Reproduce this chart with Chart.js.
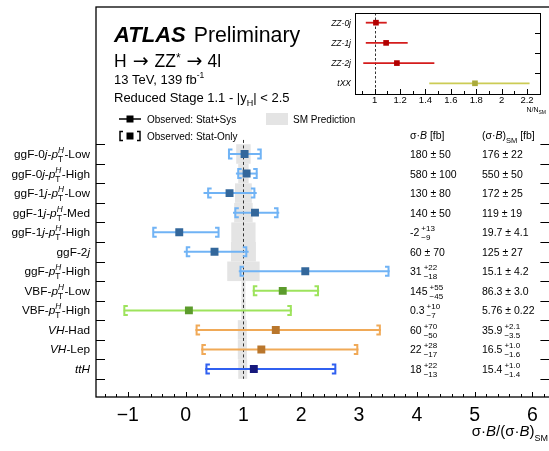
<!DOCTYPE html>
<html><head><meta charset="utf-8">
<script src="https://cdn.jsdelivr.net/npm/chart.js@4/dist/chart.umd.min.js"></script>
<style>
html,body{margin:0;padding:0;background:#fff;overflow:hidden;width:549px;height:451px}
#wrap{position:relative;width:556px;height:451px}
#main{position:absolute;left:0;top:0}
#inset{position:absolute;left:300px;top:0}
</style></head><body>
<div id="wrap">
<canvas id="main" width="556" height="451"></canvas>
<canvas id="inset" width="249" height="118"></canvas>
</div>
<script>
// ---------- DATA ----------
const categories = ['ggF-0<i>j</i>-<pt>-Low','ggF-0<i>j</i>-<pt>-High','ggF-1<i>j</i>-<pt>-Low','ggF-1<i>j</i>-<pt>-Med',
  'ggF-1<i>j</i>-<pt>-High','ggF-2<i>j</i>','ggF-<pt>-High','VBF-<pt>-Low','VBF-<pt>-High',
  '<i>VH</i>-Had','<i>VH</i>-Lep','<i>ttH</i>'];
const groupOf = ['ggF','ggF','ggF','ggF','ggF','ggF','ggF','VBF','VBF','VH','VH','ttH'];
const central = [1.02, 1.055, 0.76, 1.20, -0.11, 0.50, 2.07, 1.68, 0.057, 1.56, 1.31, 1.18];
const totalLo = [0.74, 0.87, 0.31, 0.82, -0.56, -0.03, 0.92, 1.16, -1.07, 0.17, 0.27, 0.34];
const totalHi = [1.30, 1.24, 1.23, 1.62, 0.57, 1.09, 3.53, 2.31, 1.84, 3.38, 2.99, 2.60];
const statLo  = [0.75, 0.91, 0.39, 0.86, -0.56, 0.02, 0.95, 1.18, -1.06, 0.19, 0.29, 0.36];
const statHi  = [1.30, 1.23, 1.19, 1.59, 0.57, 1.05, 3.51, 2.29, 1.82, 3.36, 2.97, 2.59];
const smErrDn = [0.125, 0.09, 0.145, 0.16, 0.21, 0.216, 0.28, 0.035, 0.038, 0.097, 0.097, 0.09];
const smErrUp = [0.125, 0.09, 0.145, 0.16, 0.21, 0.216, 0.28, 0.035, 0.038, 0.058, 0.06, 0.065];
// table columns
const xsVal = ['180','580','130','140','-2','60','31','145','0.3','60','22','18'];
const xsUp  = ['50','100','80','50','+13','70','+22','+55','+10','+70','+28','+22'];
const xsDn  = [null,null,null,null,'\u22129',null,'\u221218','\u221245','\u22127','\u221250','\u221217','\u221213'];
const smVal = ['176','550','172','119','19.7','125','15.1','86.3','5.76','35.9','16.5','15.4'];
const smUp  = ['22','50','25','19','4.1','27','4.2','3.0','0.22','+2.1','+1.0','+1.0'];
const smDn  = [null,null,null,null,null,null,null,null,null,'\u22123.5','\u22121.6','\u22121.4'];
const xTickLabels = [-1,0,1,2,3,4,5,6];
// inset
const insetCats = ['ZZ-0j','ZZ-1j','ZZ-2j','tXX'];
const insetVal = [1.01, 1.09, 1.175, 1.79];
const insetLo  = [0.93, 0.93, 0.91, 1.43];
const insetHi  = [1.095, 1.26, 1.47, 2.22];
const insetTicks = [1, 1.2, 1.4, 1.6, 1.8, 2, 2.2];

// ---------- STYLE ----------
const FAM = '"Liberation Sans", Arial, Helvetica, sans-serif';
const f = (s, st) => `${st||''} ${s}px ${FAM}`;
const fd = (s) => `${s}px "DejaVu Sans", sans-serif`;
const groupStyle = {
  ggF: {line:'#70b3f5', mark:'#33679b'},
  VBF: {line:'#9de35c', mark:'#5c9b2c'},
  VH:  {line:'#f0a957', mark:'#b9762c'},
  ttH: {line:'#3060f0', mark:'#16187c'}
};
const groupNames = ['ggF','VBF','VH','ttH'];
const LF = 11.8;

// ---------- rich text ----------
function segWidth(ctx, s){
  if (s.stack){ ctx.font=s.supFont; const a=ctx.measureText(s.sup).width; ctx.font=s.subFont; const b=ctx.measureText(s.sub).width; return Math.max(a,b) + (s.gap||0) + (s.gapL||0); }
  ctx.font = s.font; return ctx.measureText(s.t).width + (s.gap||0) + (s.gapL||0);
}
function drawSegs(ctx, segs, x, y, align){
  let w = 0; segs.forEach(s => w += segWidth(ctx, s));
  let cx = align === 'right' ? x - w : x;
  ctx.textBaseline = 'alphabetic'; ctx.textAlign = 'left';
  segs.forEach(s => {
    const g = s.gapL || 0;
    if (s.stack){
      ctx.font = s.supFont; ctx.fillText(s.sup, cx + g, y + s.supDy);
      ctx.font = s.subFont; ctx.fillText(s.sub, cx + g, y + s.subDy);
    } else {
      ctx.font = s.font; ctx.fillText(s.t, cx + g, y + (s.dy||0));
    }
    cx += segWidth(ctx, s);
  });
}
function labelSegs(str){
  const parts = str.split(/(<i>.*?<\/i>|<pt>)/).filter(p => p.length);
  return parts.map(p => {
    if (p === '<pt>') return [{t:'p', font:f(LF,'italic')},{stack:true, sup:'H', supFont:f(8.3,'italic'), sub:'T', subFont:f(8.3), supDy:-5, subDy:4, gap:0.5}];
    if (p.startsWith('<i>')) return [{t:p.slice(3,-4), font:f(LF,'italic')}];
    return [{t:p, font:f(LF)}];
  }).flat();
}
function valSegs(v, up, dn, size){
  if (dn === null) return [{t:`${v} \u00b1 ${up}`, font:f(size)}];
  return [{t:v, font:f(size)}, {stack:true, sup:up, sub:dn, supFont:f(8), subFont:f(8), supDy:-5, subDy:4, gapL:2, gap:2}];
}

// ---------- main chart ----------
const mainPlugin = {
  id:'mainDecor',
  beforeDatasetsDraw(chart){
    const {ctx, scales:{x, y}} = chart;
    ctx.save();
    // SM prediction band
    ctx.fillStyle = '#e4e4e4';
    categories.forEach((c, i) => {
      const x0 = x.getPixelForValue(1 - smErrDn[i]), x1 = x.getPixelForValue(1 + smErrUp[i]);
      const y0 = y.getPixelForValue(i - 0.5), y1 = y.getPixelForValue(i + 0.5);
      ctx.fillRect(x0, y0, x1 - x0, y1 - y0);
    });
    // SM line
    ctx.strokeStyle = '#333'; ctx.lineWidth = 1; ctx.setLineDash([3, 2.5]);
    const xp = Math.round(x.getPixelForValue(1)) + 0.5;
    ctx.beginPath(); ctx.moveTo(xp, y.getPixelForValue(-0.72)); ctx.lineTo(xp, y.getPixelForValue(11.5)); ctx.stroke();
    ctx.setLineDash([]);
    // error bars
    categories.forEach((c, i) => {
      const col = groupStyle[groupOf[i]].line;
      const yp = y.getPixelForValue(i);
      ctx.strokeStyle = col; ctx.lineWidth = 2;
      ctx.beginPath(); ctx.moveTo(x.getPixelForValue(totalLo[i]), yp); ctx.lineTo(x.getPixelForValue(totalHi[i]), yp); ctx.stroke();
      const l = x.getPixelForValue(statLo[i]), r = x.getPixelForValue(statHi[i]);
      ctx.beginPath();
      ctx.moveTo(l + 3.5, yp - 4.5); ctx.lineTo(l, yp - 4.5); ctx.lineTo(l, yp + 4.5); ctx.lineTo(l + 3.5, yp + 4.5);
      ctx.moveTo(r - 3.5, yp - 4.5); ctx.lineTo(r, yp - 4.5); ctx.lineTo(r, yp + 4.5); ctx.lineTo(r - 3.5, yp + 4.5);
      ctx.stroke();
    });
    ctx.restore();
  },
  afterDraw(chart){
    const {ctx, chartArea:a, scales:{x, y}} = chart;
    ctx.save();
    ctx.strokeStyle = '#000'; ctx.lineWidth = 1.3;
    ctx.strokeRect(a.left, a.top, a.right - a.left, a.bottom - a.top);
    ctx.lineWidth = 1;
    ctx.beginPath();
    for (let i = 0; i <= categories.length; i++){
      const yp = Math.round(y.getPixelForValue(i - 0.5)) + 0.5;
      ctx.moveTo(a.left, yp); ctx.lineTo(a.left + 9, yp);
      ctx.moveTo(a.right - 10, yp); ctx.lineTo(a.right, yp);
    }
    for (let k = -7; k <= 31; k++){
      const v = k / 5, xp = Math.round(x.getPixelForValue(v)) + 0.5;
      const len = (k % 5 === 0) ? 5 : 3;
      ctx.moveTo(xp, a.bottom); ctx.lineTo(xp, a.bottom - len);
    }
    ctx.stroke();
    ctx.fillStyle = '#000';
    // category labels
    categories.forEach((c, i) => drawSegs(ctx, labelSegs(c), 90, y.getPixelForValue(i) + 4, 'right'));
    // table
    drawSegs(ctx, [{t:'\u03c3\u00b7', font:f(10.5)},{t:'B', font:f(10.5,'italic')},{t:' [fb]', font:f(10.5)}], 410, 139);
    drawSegs(ctx, [{t:'(\u03c3\u00b7', font:f(10.5)},{t:'B', font:f(10.5,'italic')},{t:')', font:f(10.5)},{t:'SM', font:f(7.5), dy:3.5},{t:' [fb]', font:f(10.5)}], 482, 139);
    categories.forEach((c, i) => {
      const yp = y.getPixelForValue(i) + 4;
      drawSegs(ctx, valSegs(xsVal[i], xsUp[i], xsDn[i], 10.5), 410, yp);
      drawSegs(ctx, valSegs(smVal[i], smUp[i], smDn[i], 10.5), 482, yp);
    });
    // titles
    drawSegs(ctx, [{t:'ATLAS', font:f(22,'italic bold'), gap:8},{t:'Preliminary', font:f(21.3)}], 114, 42);
    drawSegs(ctx, [{t:'H', font:f(17.5)},{t:'\u2192', font:fd(19), gapL:6, gap:6},{t:'ZZ', font:f(17.5)},{t:'*', font:f(12), dy:-5},{t:'\u2192', font:fd(19), gapL:6, gap:5},{t:'4l', font:f(17.5)}], 114, 67);
    drawSegs(ctx, [{t:'13 TeV, 139 fb', font:f(13)},{t:'-1', font:f(8.5), dy:-6}], 114, 84);
    drawSegs(ctx, [{t:'Reduced Stage 1.1 - |y', font:f(13)},{t:'H', font:f(9), dy:4},{t:'| < 2.5', font:f(13)}], 114, 102);
    // legend
    ctx.lineWidth = 1.5; ctx.strokeStyle = '#000';
    ctx.beginPath(); ctx.moveTo(119, 119); ctx.lineTo(141, 119); ctx.stroke();
    ctx.fillRect(126.5, 115.5, 7, 7);
    ctx.beginPath();
    ctx.moveTo(123, 131.5); ctx.lineTo(120, 131.5); ctx.lineTo(120, 140.5); ctx.lineTo(123, 140.5);
    ctx.moveTo(137, 131.5); ctx.lineTo(140, 131.5); ctx.lineTo(140, 140.5); ctx.lineTo(137, 140.5);
    ctx.stroke();
    ctx.fillRect(126.5, 132.5, 7, 7);
    ctx.fillStyle = '#e4e4e4'; ctx.fillRect(266, 113, 22, 12);
    ctx.fillStyle = '#000';
    drawSegs(ctx, [{t:'Observed: Stat+Sys', font:f(10)}], 147, 122.5);
    drawSegs(ctx, [{t:'Observed: Stat-Only', font:f(10)}], 147, 139.5);
    drawSegs(ctx, [{t:'SM Prediction', font:f(10)}], 293, 122.5);
    // axis title
    drawSegs(ctx, [{t:'\u03c3\u00b7', font:f(15)},{t:'B', font:f(15,'italic')},{t:'/(\u03c3\u00b7', font:f(15)},{t:'B', font:f(15,'italic')},{t:')', font:f(15)},{t:'SM', font:f(9), dy:5}], 548, 436, 'right');
    ctx.restore();
  }
};

new Chart(document.getElementById('main'), {
  type: 'scatter',
  data: {
    datasets: groupNames.map(g => ({
      label: g,
      data: categories.map((c, i) => ({x: central[i], y: i})).filter((p, i) => groupOf[i] === g),
      pointStyle: 'rect', pointRadius: 5.6, pointHoverRadius: 5.6,
      backgroundColor: groupStyle[g].mark, borderColor: groupStyle[g].mark, borderWidth: 0
    }))
  },
  options: {
    responsive: false, animation: false, devicePixelRatio: 1,
    layout: {padding: {top: 7, right: 3, left: 0, bottom: 0}},
    plugins: {legend: {display: false}, tooltip: {enabled: false}},
    scales: {
      x: {type: 'linear', min: -1.55, max: 6.31,
        afterBuildTicks: s => { s.ticks = xTickLabels.map(v => ({value: v})); },
        afterFit: s => { s.height = 54; },
        ticks: {callback: v => (v < 0 ? '\u2212' + Math.abs(v) : '' + v), font: {family: FAM, size: 19.5}, color: '#000', padding: 7, maxRotation: 0, autoSkip: false},
        grid: {display: false, drawTicks: false}, border: {display: false}},
      y: {type: 'linear', reverse: true, min: -7.52, max: 12.43,
        afterFit: s => { s.width = 96; },
        ticks: {display: false}, grid: {display: false, drawTicks: false}, border: {display: false}}
    }
  },
  plugins: [mainPlugin]
});

// ---------- inset chart ----------
const insetCol = [{line:'#d41c1c', mark:'#b30000'},{line:'#d41c1c', mark:'#b30000'},{line:'#d41c1c', mark:'#b30000'},{line:'#cccc55', mark:'#abab3c'}];
const insetPlugin = {
  id:'insetDecor',
  beforeDatasetsDraw(chart){
    const {ctx, chartArea:a, scales:{x, y}} = chart;
    ctx.save();
    ctx.strokeStyle = '#333'; ctx.lineWidth = 1; ctx.setLineDash([2.5, 2]);
    const xp = Math.round(x.getPixelForValue(1)) + 0.5;
    ctx.beginPath(); ctx.moveTo(xp, a.top); ctx.lineTo(xp, a.bottom); ctx.stroke();
    ctx.setLineDash([]);
    insetCats.forEach((c, i) => {
      const yp = y.getPixelForValue(i);
      ctx.strokeStyle = insetCol[i].line; ctx.lineWidth = 1.8;
      ctx.beginPath(); ctx.moveTo(x.getPixelForValue(insetLo[i]), yp); ctx.lineTo(x.getPixelForValue(insetHi[i]), yp); ctx.stroke();
    });
    ctx.restore();
  },
  afterDraw(chart){
    const {ctx, chartArea:a, scales:{x, y}} = chart;
    ctx.save();
    ctx.strokeStyle = '#000'; ctx.lineWidth = 1;
    ctx.strokeRect(a.left + 0.5, a.top + 0.5, a.right - a.left - 1, a.bottom - a.top);
    ctx.beginPath();
    for (let i = 0; i < insetCats.length - 1; i++){
      const yp = Math.round(y.getPixelForValue(i + 0.5)) + 0.5;
      ctx.moveTo(a.right - 6, yp); ctx.lineTo(a.right, yp);
    }
    for (let k = 9; k <= 23; k++){
      const xp = Math.round(x.getPixelForValue(k / 10)) + 0.5;
      const len = (k % 2 === 0) ? 5 : 3;
      ctx.moveTo(xp, a.bottom); ctx.lineTo(xp, a.bottom - len);
    }
    ctx.stroke();
    ctx.fillStyle = '#000';
    insetCats.forEach((c, i) => drawSegs(ctx, [{t:c, font:f(8.5,'italic')}], a.left - 4, y.getPixelForValue(i) + 3, 'right'));
    drawSegs(ctx, [{t:'N/N', font:f(7)},{t:'SM', font:f(5), dy:2}], 246, 112, 'right');
    ctx.restore();
  }
};
new Chart(document.getElementById('inset'), {
  type: 'scatter',
  data: {
    datasets: [{
      data: insetCats.map((c, i) => ({x: insetVal[i], y: i})),
      pointStyle: 'rect', pointRadius: 4, pointHoverRadius: 4,
      backgroundColor: insetCol.map(c => c.mark), borderWidth: 0
    }]
  },
  options: {
    responsive: false, animation: false, devicePixelRatio: 1,
    layout: {padding: {top: 13, right: 8, left: 0, bottom: 0}},
    plugins: {legend: {display: false}, tooltip: {enabled: false}},
    scales: {
      x: {type: 'linear', min: 0.845, max: 2.31,
        afterBuildTicks: s => { s.ticks = insetTicks.map(v => ({value: v})); },
        afterFit: s => { s.height = 24; },
        ticks: {callback: v => '' + Math.round(v * 10) / 10, font: {family: FAM, size: 9.5}, color: '#000', padding: 1, maxRotation: 0, autoSkip: false},
        grid: {display: false, drawTicks: false}, border: {display: false}},
      y: {type: 'linear', reverse: true, min: -0.48, max: 3.53,
        afterFit: s => { s.width = 55; },
        ticks: {display: false}, grid: {display: false, drawTicks: false}, border: {display: false}}
    }
  },
  plugins: [insetPlugin]
});
</script>
</body></html>
